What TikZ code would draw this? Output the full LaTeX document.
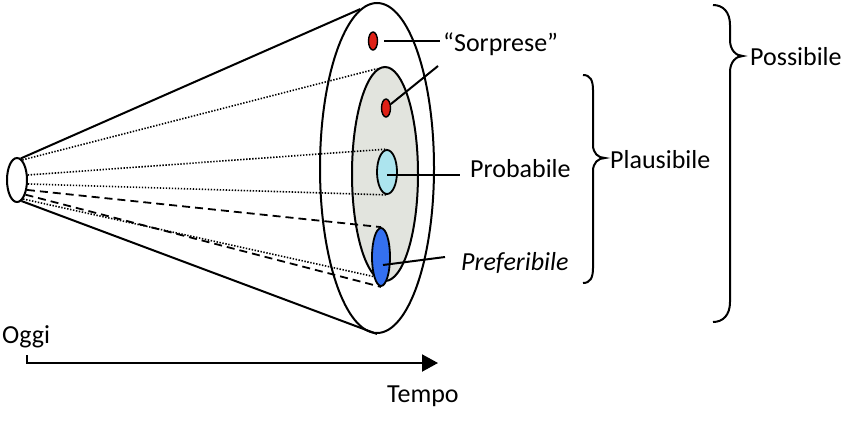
\documentclass[tikz,border=0pt]{standalone}
\usepackage{fontspec}
\setmainfont{Carlito}
\usetikzlibrary{shapes.geometric,arrows.meta}
\definecolor{dotred}{RGB}{222,32,22}
\definecolor{cyanf}{RGB}{172,228,238}
\definecolor{bluef}{RGB}{52,112,240}
\definecolor{grayf}{RGB}{226,228,222}
\newcommand{\lblfont}{\fontsize{26}{31}\selectfont}
\begin{document}
\begin{tikzpicture}[x=1pt,y=-1pt,
  shp/.style={ellipse,draw,line width=2pt,inner sep=0pt},
  lbl/.style={inner sep=0pt,anchor=base west,font=\lblfont},
  ln/.style={line width=2pt},
  dots/.style={line width=1.6pt,dash pattern=on 1.4pt off 1.6pt},
  dashes/.style={line width=1.8pt,dash pattern=on 8pt off 5pt}]
\useasboundingbox (0,0) rectangle (850,426);
% cone
\node[shp,fill=white,minimum width=114pt,minimum height=330pt] (outer) at (377,168) {};
\node[shp,fill=white,minimum width=20pt,minimum height=44pt] (today) at (17,180) {};
\draw[ln] (today.80) -- (outer.96);
\draw[ln] (today.-78) -- (outer.-90);
\node[shp,fill=grayf,minimum width=66pt,minimum height=214pt] (gray) at (385,174) {};
\node[shp,line width=1.4pt,fill=dotred,minimum width=9pt,minimum height=18pt] (red1) at (373,41) {};
\node[shp,line width=1.4pt,fill=dotred,minimum width=9pt,minimum height=18pt] (red2) at (386,108) {};
\node[shp,line width=1.8pt,fill=cyanf,minimum width=20pt,minimum height=44pt] (cyan) at (387,172) {};
\node[shp,line width=1.8pt,fill=bluef,minimum width=18pt,minimum height=58pt] (blue) at (381,257) {};
% rays
\draw[dots] (today.75) -- (gray.94);
\draw[dots] (today.25) -- (cyan.north);
\draw[dots] (today.-20) -- (cyan.south);
\draw[dashes] (today.-45) -- (blue.north);
\draw[dashes] (today.-60) -- (blue.south);
\draw[dots] (today.-72) -- (blue.249);
% labels
\node[lbl] (sorp) at (443,51) {“Sorprese”};
\coordinate (sorpfoot) at (438,66);
\draw[ln,shorten <=6pt,shorten >=3pt] (red1.east) -- (red1.east -| sorp.west);
\draw[ln] (red2) -- (sorpfoot);
\node[lbl] (prob) at (470,177) {Probabile};
\draw[ln,shorten >=10pt] ([yshift=-3pt]cyan.center) -- ([yshift=-3pt]cyan.center -| prob.west);
\node[lbl,font=\lblfont\itshape] (pref) at (461,270) {Preferibile};
\coordinate (prefL) at (445,257);
\draw[ln] ([xshift=2pt,yshift=-8pt]blue.center) -- (prefL);
% braces
\node[lbl] (plaus) at (610,168) {Plausibile};
\draw[ln] (583,75) .. controls (590,75) and (593,80) .. (593,90) -- (593,145)
  .. controls (593,153) and (598,158) .. (605,158)
  .. controls (598,158) and (593,163) .. (593,171) -- (593,268)
  .. controls (593,278) and (590,283) .. (583,283);
\node[lbl] (poss) at (750,65) {Possibile};
\draw[ln] (713,5) .. controls (723,5) and (730,12) .. (730,25) -- (730,40)
  .. controls (730,50) and (736,56) .. (743,56)
  .. controls (736,56) and (730,62) .. (730,72) -- (730,302)
  .. controls (730,315) and (723,322) .. (713,322);
% time axis
\node[lbl] (oggi) at (2,343) {Oggi};
\node[lbl] (tempo) at (387,402) {Tempo};
\coordinate (tstart) at (27,355);
\coordinate (tend) at (438,363);
\draw[ln,-{Triangle[length=16pt,width=17pt]}] (tstart) |- (tend);
\end{tikzpicture}
\end{document}
